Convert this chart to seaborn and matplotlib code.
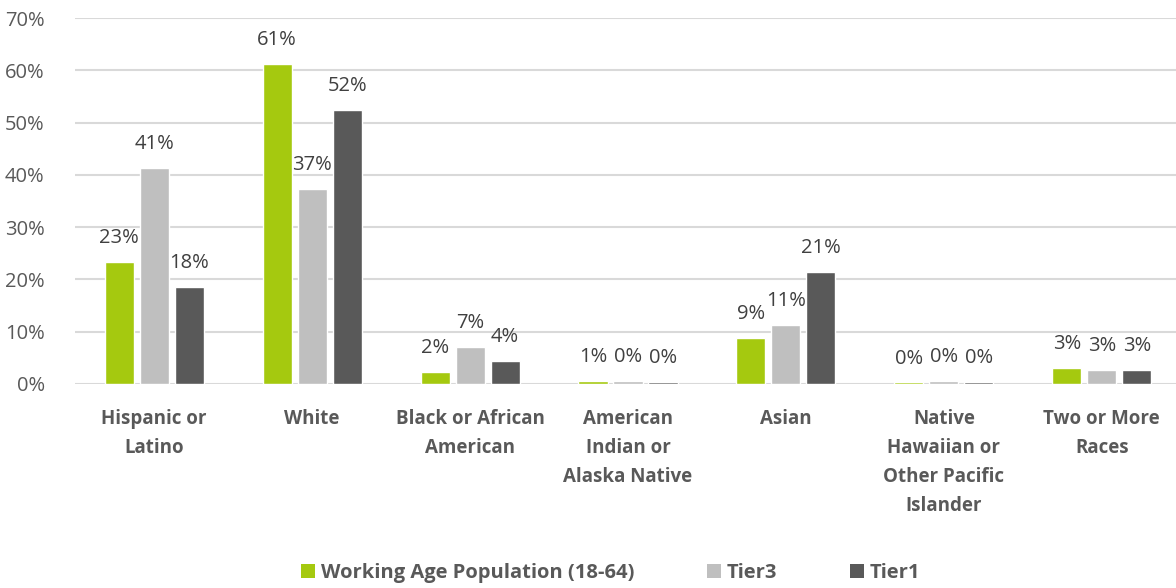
import matplotlib
matplotlib.use("Agg")
import matplotlib.pyplot as plt
import seaborn as sns
import pandas as pd
from matplotlib.patches import Patch

categories = ["Hispanic or\nLatino", "White", "Black or African\nAmerican",
              "American\nIndian or\nAlaska Native", "Asian",
              "Native\nHawaiian or\nOther Pacific\nIslander", "Two or More\nRaces"]
series_names = ["Working Age Population (18-64)", "Tier3", "Tier1"]
working_age = [0.233, 0.612, 0.023, 0.006, 0.088, 0.003, 0.031]
tier3 = [0.414, 0.373, 0.071, 0.005, 0.113, 0.005, 0.027]
tier1 = [0.185, 0.524, 0.044, 0.004, 0.214, 0.004, 0.027]
y_ticks = [0, 0.1, 0.2, 0.3, 0.4, 0.5, 0.6, 0.7]

colors = ["#A5C90F", "#BFBFBF", "#595959"]
text_color = "#595959"

rows = []
for name, vals in zip(series_names, [working_age, tier3, tier1]):
    for c, v in zip(categories, vals):
        rows.append({"cat": c, "series": name, "value": v})
df = pd.DataFrame(rows)

sns.set_theme(style="white")
plt.rcParams['font.family'] = ['Open Sans', 'DejaVu Sans']

fig = plt.figure(figsize=(11.76, 5.88), dpi=100)
ax = fig.add_axes([0.064, 0.347, 0.94, 0.622])

sns.barplot(data=df, x="cat", y="value", hue="series", palette=colors,
            order=categories, hue_order=series_names, width=0.665, gap=0.17,
            ax=ax, legend=False, saturation=1)

for cont in ax.containers:
    ax.bar_label(cont, labels=[f"{v*100:.0f}%" for v in cont.datavalues],
                 padding=10, fontsize=14.5, color="#404040")

ax.set_ylim(0, 0.7)
ax.set_yticks(y_ticks)
ax.set_yticklabels([f"{int(round(t*100))}%" for t in y_ticks], fontsize=14.5, color=text_color)
ax.set_xlim(-0.5, 6.5)
ax.yaxis.grid(True, color="#D9D9D9", linewidth=1.5)
ax.set_axisbelow(True)
for s in ax.spines.values():
    s.set_visible(False)
ax.tick_params(axis="y", length=0, pad=22)
ax.tick_params(axis="x", length=0, pad=18)
ax.set_xlabel("")
ax.set_ylabel("")
ax.set_xticks(range(len(categories)))
ax.set_xticklabels(categories, fontsize=13.5, fontweight="bold", color=text_color, linespacing=1.6)
for lbl in ax.get_yticklabels():
    lbl.set_horizontalalignment("right")

handles = [Patch(facecolor=c, edgecolor="none") for c in colors]
fig.legend(handles, series_names, loc="center", bbox_to_anchor=(0.519, 0.025), ncol=3,
           frameon=False, prop={"weight": "bold", "size": 14.5}, labelcolor=text_color,
           handlelength=0.7, handleheight=0.7, handletextpad=0.3, columnspacing=3.6)

fig.savefig("out.png", dpi=100)
